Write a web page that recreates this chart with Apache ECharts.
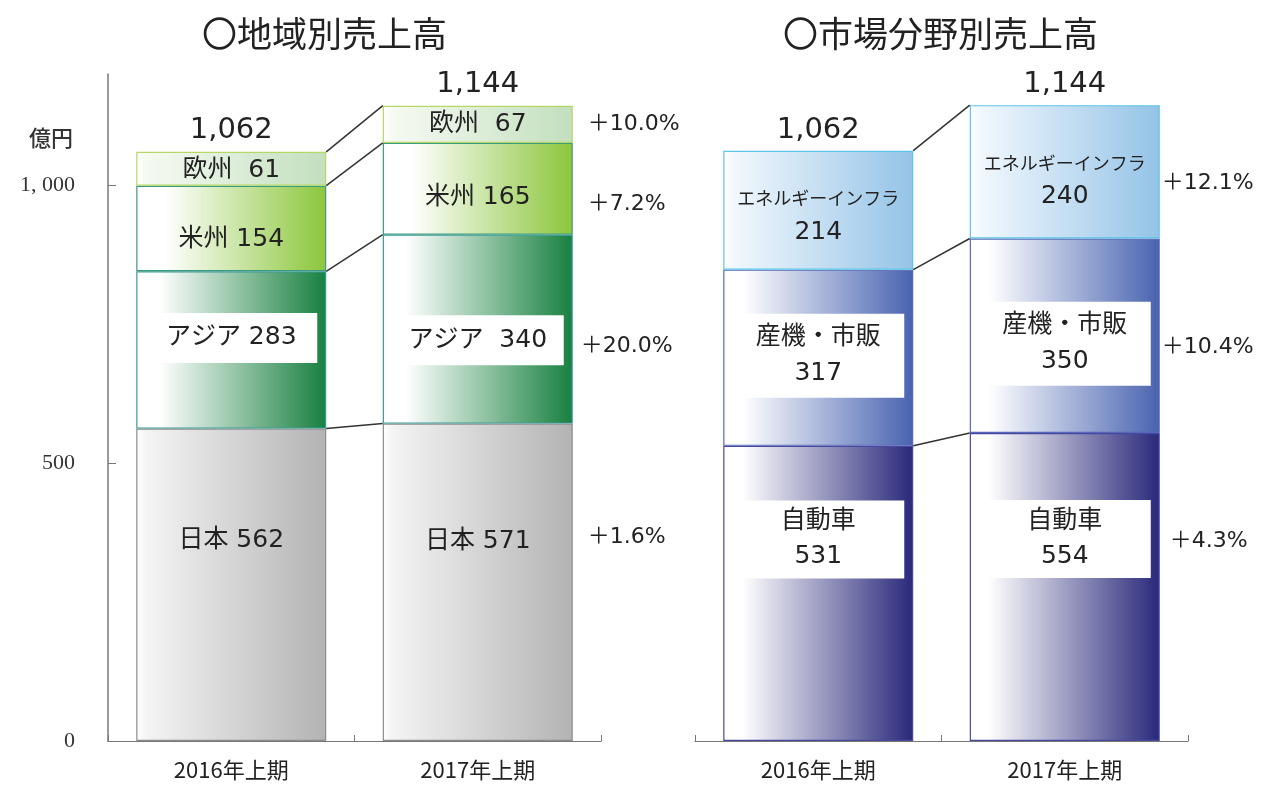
<!DOCTYPE html>
<html>
<head>
<meta charset="utf-8">
<script src="https://cdn.jsdelivr.net/npm/echarts@6/dist/echarts.min.js"></script>
<style>
  html, body { margin: 0; padding: 0; background: #fff; }
  #main { width: 1261px; height: 785px; }
</style>
</head>
<body>
<div id="main"></div>
<script>
// 期間
const periods = ["2016年上期", "2017年上期"];

// 地域別売上高（億円）
const regionNames = ["日本", "アジア", "米州", "欧州"];
const japan = [562, 571];
const asia = [283, 340];
const americas = [154, 165];
const europe = [61, 67];
const regionTotals = [1062, 1144];
const regionGrowth = ["＋1.6%", "＋20.0%", "＋7.2%", "＋10.0%"];

// 市場分野別売上高（億円）
const marketNames = ["自動車", "産機・市販", "エネルギーインフラ"];
const automotive = [531, 554];
const industrial = [317, 350];
const energy = [214, 240];
const marketTotals = [1062, 1144];
const marketGrowth = ["＋4.3%", "＋10.4%", "＋12.1%"];

// 軸
const yTicks = [0, 500, 1000];
const yMax = 1200;

const FONT = "Noto Sans CJK JP";
const NUMFONT = "DejaVu Sans, Noto Sans CJK JP";
const BAR_W = 190;

const grad = (from, to, start = 0) =>
  new echarts.graphic.LinearGradient(0, 0, 1, 0, [
    { offset: 0, color: "#ffffff" },
    { offset: start, color: from },
    { offset: 1, color: to }
  ]);

// 白いラベル枠
const whiteBox = (w, pad, lh) => ({
  backgroundColor: "#fff",
  padding: pad,
  width: w,
  lineHeight: lh
});

const stackBar = (name, values, idx, cfg) => ({
  type: "bar",
  name,
  stack: "s" + idx,
  xAxisIndex: idx,
  yAxisIndex: idx,
  barWidth: BAR_W,
  data: values.map((v, i) => ({ value: v, label: { offset: [0, cfg.shift[i]] } })),
  itemStyle: { color: grad(cfg.from, cfg.to, cfg.start), borderColor: cfg.border, borderWidth: 1.2 },
  label: {
    show: true,
    position: "inside",
    fontSize: 25,
    fontFamily: NUMFONT,
    color: "#222",
    align: "center",
    formatter: cfg.fmt,
    ...(cfg.box || {})
  },
  z: 2
});

const cumulate = (series) => {
  const out = [];
  let a = 0, b = 0;
  series.forEach((s) => {
    a += s[0];
    b += s[1];
    out.push([a, b]);
  });
  return out;
};

// 区切り線（2016右端 → 2017左端）
const linkSeries = (idx, series) => ({
  type: "custom",
  xAxisIndex: idx,
  yAxisIndex: idx,
  encode: { x: 0, y: [1, 2] },
  data: cumulate(series).map((c, k) => [0, c[0], c[1], k]),
  renderItem: (params, api) => {
    const a = api.coord([0, api.value(1)]);
    const b = api.coord([1, api.value(2)]);
    return {
      type: "line",
      shape: { x1: a[0] + BAR_W / 2, y1: a[1], x2: b[0] - BAR_W / 2, y2: b[1] },
      style: { stroke: "#333", lineWidth: 1.5 }
    };
  },
  z: 3
});

// 伸び率
const growthSeries = (idx, series, growth, shift) => ({
  type: "custom",
  xAxisIndex: idx,
  yAxisIndex: idx,
  encode: { x: 0, y: 1 },
  data: cumulate(series).map((c, k) => [1, c[1] - series[k][1] / 2, k]),
  renderItem: (params, api) => {
    const k = api.value(2);
    const p = api.coord([1, api.value(1)]);
    return {
      type: "text",
      x: p[0] + BAR_W / 2 + shift[k][0],
      y: p[1] + shift[k][1],
      style: { text: growth[k], fontSize: 22, fontFamily: NUMFONT, fill: "#222", align: "left", verticalAlign: "middle" }
    };
  },
  z: 3
});

// 合計
const totalSeries = (idx, totals) => ({
  type: "custom",
  xAxisIndex: idx,
  yAxisIndex: idx,
  encode: { x: 0, y: 1 },
  data: totals.map((t, i) => [i, t]),
  renderItem: (params, api) => {
    const p = api.coord([api.value(0), api.value(1)]);
    return {
      type: "text",
      x: p[0],
      y: p[1] - 6,
      style: {
        text: api.value(1).toLocaleString("en-US"),
        fontSize: 29,
        fontFamily: "DejaVu Sans",
        fill: "#222",
        align: "center",
        verticalAlign: "bottom"
      }
    };
  },
  z: 3
});

const fmtOne = (sep) => (p) => p.seriesName + sep + p.value;
const fmtTwo = (p) => p.seriesName + "\n" + p.value;

const xAxisBase = (idx) => ({
  type: "category",
  gridIndex: idx,
  data: periods,
  axisLine: { lineStyle: { color: "#777", width: 1.2 } },
  axisTick: { show: true, inside: true, length: 6, alignWithLabel: false, lineStyle: { color: "#777" } },
  axisLabel: { fontSize: 22, fontFamily: FONT, color: "#222", margin: 18 }
});

const option = {
  animation: false,
  backgroundColor: "#fff",
  textStyle: { fontFamily: FONT },
  title: [
    { text: "〇地域別売上高", left: 202, top: 16, padding: 0, textStyle: { fontSize: 35, fontWeight: "normal", color: "#222", fontFamily: FONT } },
    { text: "〇市場分野別売上高", left: 783, top: 16, padding: 0, textStyle: { fontSize: 35, fontWeight: "normal", color: "#222", fontFamily: FONT } }
  ],
  graphic: [
    { type: "text", left: 29, top: 127, style: { text: "億円", fontSize: 22, fontFamily: FONT, fontWeight: 500, fill: "#333" } }
  ],
  grid: [
    { left: 108, width: 493, top: 74, bottom: 44 },
    { left: 695, width: 493, top: 74, bottom: 44 }
  ],
  xAxis: [xAxisBase(0), xAxisBase(1)],
  yAxis: [
    {
      type: "value",
      gridIndex: 0,
      min: 0,
      max: yMax,
      interval: 500,
      splitLine: { show: false },
      axisLine: { show: true, lineStyle: { color: "#777", width: 1.5 } },
      axisTick: { show: true, inside: true, length: 8, customValues: yTicks, lineStyle: { color: "#777" } },
      axisLabel: {
        customValues: yTicks,
        fontSize: 22,
        fontFamily: "Liberation Serif",
        color: "#333",
        margin: 33,
        formatter: (v) => v.toLocaleString("en-US").replace(",", ", ")
      }
    },
    { type: "value", gridIndex: 1, min: 0, max: yMax, show: false, splitLine: { show: false } }
  ],
  series: [
    stackBar(regionNames[0], japan, 0, { from: "#f4f4f4", to: "#b3b3b3", start: 0.05, border: "#8c8c8c", shift: [-44, -41], fmt: fmtOne(" ") }),
    stackBar(regionNames[1], asia, 0, { from: "#ffffff", to: "#17803f", start: 0.12, border: "#3a9a98", shift: [-12, 11], fmt: (p) => p.seriesName + (p.dataIndex ? "  " : " ") + p.value, box: whiteBox(150, [12, 11], 26) }),
    stackBar(regionNames[2], americas, 0, { from: "#ffffff", to: "#8cc63c", start: 0.15, border: "#3c9a80", shift: [11, 9], fmt: fmtOne(" ") }),
    stackBar(regionNames[3], europe, 0, { from: "#f6faf2", to: "#c2dfbe", start: 0.05, border: "#b5d764", shift: [2, 0], fmt: fmtOne("  ") }),
    linkSeries(0, [japan, asia, americas, europe]),
    growthSeries(0, [japan, asia, americas, europe], regionGrowth, [[15, -45], [8, 17], [15, 16], [15, 0]]),
    totalSeries(0, regionTotals),

    stackBar(marketNames[0], automotive, 1, { from: "#ffffff", to: "#29287a", start: 0.1, border: "#4848a0", shift: [-54, -48], fmt: fmtTwo, box: whiteBox(150, [4, 11], 35) }),
    stackBar(marketNames[1], industrial, 1, { from: "#ffffff", to: "#4863b0", start: 0.1, border: "#5868b8", shift: [-2, 8], fmt: fmtTwo, box: whiteBox(150, [6, 11], 36) }),
    stackBar(marketNames[2], energy, 1, {
      from: "#f2f8fd", to: "#94c3e7", start: 0.05, border: "#5cc6e8", shift: [5, 8],
      fmt: (p) => "{a|" + p.seriesName + "}\n{b|" + p.value + "}",
      box: {
        rich: {
          a: { fontSize: 18, fontFamily: FONT, color: "#222", lineHeight: 34, align: "center" },
          b: { fontSize: 25, fontFamily: "DejaVu Sans", color: "#222", lineHeight: 34, align: "center" }
        }
      }
    }),
    linkSeries(1, [automotive, industrial, energy]),
    growthSeries(1, [automotive, industrial, energy], marketGrowth, [[10, -46], [2, 11], [2, 11]]),
    totalSeries(1, marketTotals)
  ]
};

const chart = echarts.init(document.getElementById("main"));
chart.setOption(option);
</script>
</body>
</html>
